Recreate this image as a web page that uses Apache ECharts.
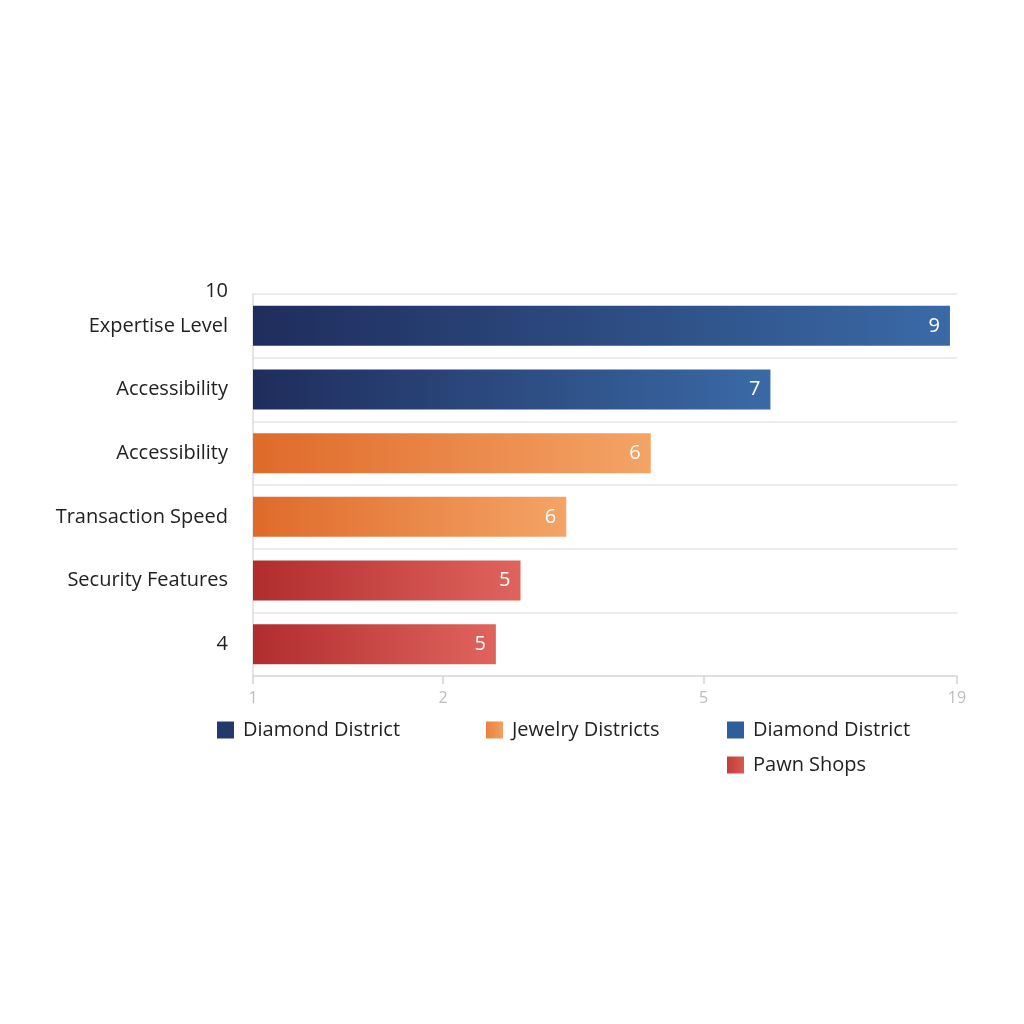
<!DOCTYPE html>
<html>
<head>
<meta charset="utf-8">
<script src="https://cdn.jsdelivr.net/npm/echarts@6/dist/echarts.min.js"></script>
<style>html,body{margin:0;padding:0;background:#fff;}#c{width:1024px;height:1024px;}</style>
</head>
<body>
<div id="c"></div>
<script>
// ---- data ----
const categories = ['Expertise Level', 'Accessibility', 'Accessibility', 'Transaction Speed', 'Security Features', '4'];
const topLabel = '10';
const barValues = [9.9, 7.35, 5.65, 4.45, 3.8, 3.45];   // bar lengths on the axis scale
const scoreLabels = [9, 7, 6, 6, 5, 5];                 // numbers printed on the bars
const rowSeries = [0, 2, 1, 1, 3, 3];                   // which series each row belongs to
const seriesNames = ['Diamond District#1', 'Jewelry Districts#2', 'Diamond District#3', 'Pawn Shops#4'];
const tickValues = [0, 2.7, 6.4, 10];
const tickLabels = ['1', '2', '5', '19'];

const FONT = 'Open Sans';
const grad = (a, b) => new echarts.graphic.LinearGradient(0, 0, 1, 0, [{offset: 0, color: a}, {offset: 1, color: b}]);
const seriesColors = [
  grad('#1f2d5c', '#3a6aa6'),
  grad('#df6a2a', '#f4a466'),
  grad('#1f2d5c', '#3a6aa6'),
  grad('#b02d2e', '#e0645e')
];
const legendColors = ['#25386b', grad('#e8823c', '#f2a062'), '#2f5f9a', grad('#c43c3a', '#d85a52')];
const legendPos = [[217, 720], [486, 720], [727, 720], [727, 755]];

const chart = echarts.init(document.getElementById('c'));
chart.setOption({
  backgroundColor: '#ffffff',
  animation: false,
  grid: {left: 253, right: 67, top: 294, bottom: 348},
  legend: seriesNames.map((n, i) => ({
    left: legendPos[i][0], top: legendPos[i][1], padding: 0,
    data: [{name: n, itemStyle: {color: legendColors[i]}}],
    icon: 'rect', itemWidth: 17, itemHeight: 17,
    formatter: name => name.replace(/#\d$/, ''),
    textStyle: {fontFamily: FONT, fontSize: 20, color: '#222', padding: [0, 0, 0, 4]}
  })),
  xAxis: {
    type: 'value', min: 0, max: 10,
    axisLine: {show: true, lineStyle: {color: '#dcdcdc', width: 1.5}},
    axisTick: {show: true, customValues: tickValues, length: 8, lineStyle: {color: '#d4d4d4', width: 1.5}},
    axisLabel: {
      customValues: tickValues, margin: 14,
      formatter: v => tickLabels[tickValues.indexOf(v)],
      fontFamily: FONT, fontSize: 16, color: '#bdbdbd'
    },
    splitLine: {show: false}
  },
  yAxis: {
    type: 'category', inverse: true, data: categories,
    name: topLabel, nameLocation: 'start', nameGap: 3,
    nameTextStyle: {fontFamily: FONT, fontSize: 20, color: '#222', align: 'right', verticalAlign: 'middle', padding: [0, 25, 0, 0]},
    axisLine: {show: true, lineStyle: {color: '#dcdcdc', width: 1.5}},
    axisTick: {show: false},
    axisLabel: {fontFamily: FONT, fontSize: 20, color: '#222', margin: 25},
    splitLine: {show: true, lineStyle: {color: '#e6e6e6', width: 1.5}}
  },
  series: seriesNames.map((n, s) => ({
    name: n, type: 'bar', barWidth: 40, barGap: '-100%',
    itemStyle: {color: seriesColors[s]},
    label: {
      show: true, position: 'insideRight', distance: 10, color: '#fff',
      fontFamily: FONT, fontSize: 20,
      formatter: p => String(scoreLabels[p.dataIndex])
    },
    data: barValues.map((v, i) => rowSeries[i] === s ? v : '-')
  }))
});
</script>
</body>
</html>
